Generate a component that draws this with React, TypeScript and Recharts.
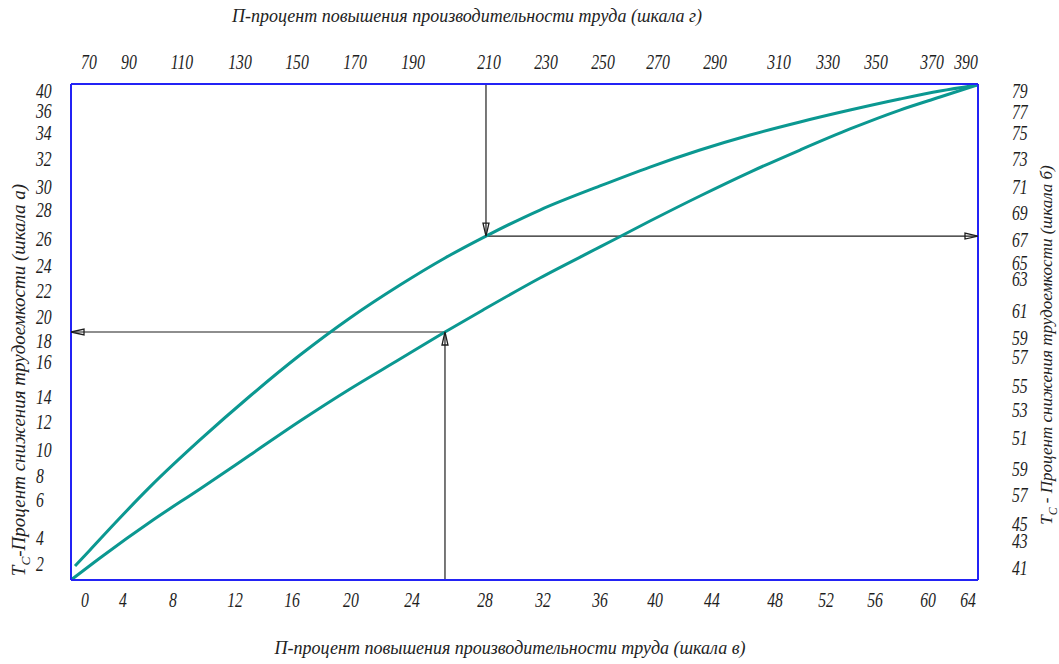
import React from 'react';
import { LineChart, Line, XAxis, YAxis } from 'recharts';

// scale "в" (bottom) and scale "а" (left) are the working units of the chart
const xDomain = [-1, 64.7];
const yDomain = [1, 40.6];

// the drawn scales are not uniform, so each label keeps its own position
const bottomTickLabels = ['0', '4', '8', '12', '16', '20', '24', '28', '32', '36', '40', '44', '48', '52', '56', '60', '64'];
const bottomTickPos = [0.01, 2.77, 6.39, 10.88, 15.01, 19.28, 23.7, 28.99, 33.19, 37.32, 41.31, 45.43, 50.0, 53.69, 57.24, 61.08, 63.98];

const topTickLabels = ['70', '90', '110', '130', '150', '170', '190', '210', '230', '250', '270', '290', '310', '330', '350', '370', '390'];
const topTickPos = [0.3, 3.2, 7.04, 11.24, 15.37, 19.57, 23.77, 29.28, 33.41, 37.54, 41.52, 45.65, 50.29, 53.84, 57.31, 61.37, 63.83];

const leftTickLabels = ['40', '36', '34', '32', '30', '28', '26', '24', '22', '20', '18', '16', '14', '12', '10', '8', '6', '4', '2'];
const leftTickPos = [40.04, 38.44, 36.69, 34.61, 32.38, 30.54, 28.23, 26.07, 24.07, 22.0, 20.08, 18.4, 15.61, 13.61, 11.38, 9.3, 7.39, 4.35, 2.28];

const rightTickLabels = ['79', '77', '75', '73', '71', '69', '67', '65', '63', '61', '59', '57', '55', '53', '51', '59', '57', '45', '43', '41'];
const rightTickPos = [40.04, 38.36, 36.69, 34.61, 32.38, 30.3, 28.15, 26.31, 25.03, 22.48, 20.32, 18.8, 16.49, 14.57, 12.34, 9.86, 7.79, 5.47, 4.11, 1.96];

// upper curve
const upperX = [-0.71, 0.38, 2.4, 4.72, 8.34, 11.97, 15.59, 19.21, 22.83, 26.09, 29.06, 32.97, 37.32, 40.94, 44.56, 48.19, 51.81, 55.43, 59.05, 61.95, 64.63];
const upperY = [2.12, 3.4, 5.79, 8.43, 12.18, 15.69, 18.96, 21.92, 24.55, 26.71, 28.46, 30.54, 32.46, 33.97, 35.33, 36.53, 37.57, 38.52, 39.4, 40.04, 40.52];

// lower curve
const lowerX = [-1, 1.1, 4.94, 8.34, 11.97, 15.59, 19.21, 22.83, 26.09, 28.85, 32.97, 37.32, 40.94, 44.56, 48.19, 51.81, 55.43, 59.05, 61.95, 64.63];
const lowerY = [1, 2.76, 5.79, 8.27, 10.98, 13.69, 16.25, 18.64, 20.8, 22.56, 25.11, 27.59, 29.66, 31.66, 33.57, 35.33, 37.01, 38.52, 39.56, 40.52];

// reading points where the guide arrows meet the curves
const lowerReading = [26.09, 20.8];
const upperReading = [29.06, 28.46];

const upperData = upperX.map((x, i) => ({ x, y: upperY[i] }));
const lowerData = lowerX.map((x, i) => ({ x, y: lowerY[i] }));

const arrows = [
  { dir: 'down', data: [{ x: upperReading[0], y: yDomain[1] }, { x: upperReading[0], y: upperReading[1] }] },
  { dir: 'right', data: [{ x: upperReading[0], y: upperReading[1] }, { x: xDomain[1], y: upperReading[1] }] },
  { dir: 'up', data: [{ x: lowerReading[0], y: yDomain[0] }, { x: lowerReading[0], y: lowerReading[1] }] },
  { dir: 'left', data: [{ x: lowerReading[0], y: lowerReading[1] }, { x: xDomain[0], y: lowerReading[1] }] },
];

const TEAL = '#0b9891';
const BLUE = '#2323f5';
const INK = '#1e1e1e';
const serif = '"Liberation Serif", "Times New Roman", serif';

const tickText = (x: number, y: number, label: string, anchor: string, key?: any) => (
  <text
    key={key}
    transform={`translate(${x},${y}) scale(0.75,1)`}
    textAnchor={anchor}
    dominantBaseline="central"
    fontFamily={serif}
    fontStyle="italic"
    fontSize={21}
    fill={INK}
  >
    {label}
  </text>
);

const labelOf = (pos: number[], labels: string[], v: number) => labels[pos.indexOf(v)] ?? '';

const arrowHead = (dir: string) => (props: any) => {
  const { cx, cy, index } = props;
  if (index !== 1 || cx == null) return <g key={`h${index}`} />;
  const L = 13;
  const W = 3;
  let pts = '';
  if (dir === 'down') pts = `${cx - W},${cy - L} ${cx + W},${cy - L} ${cx},${cy}`;
  if (dir === 'up') pts = `${cx - W},${cy + L} ${cx + W},${cy + L} ${cx},${cy}`;
  if (dir === 'right') pts = `${cx - L},${cy - W} ${cx - L},${cy + W} ${cx},${cy}`;
  if (dir === 'left') pts = `${cx + L},${cy - W} ${cx + L},${cy + W} ${cx},${cy}`;
  return <polygon key={`h${index}`} points={pts} fill="none" stroke={INK} strokeWidth={1.3} />;
};

const titleStyle: React.CSSProperties = {
  position: 'absolute',
  fontFamily: serif,
  fontStyle: 'italic',
  fontSize: 18,
  color: '#222',
  whiteSpace: 'nowrap',
};

export default function App() {
  return (
    <div style={{ position: 'absolute', left: 0, top: 0, width: 1059, height: 664, background: '#fff' }}>
      <LineChart width={1059} height={664} margin={{ top: 54, right: 41, bottom: 54, left: 31 }}>
        <XAxis
          xAxisId="b"
          type="number"
          dataKey="x"
          orientation="bottom"
          domain={xDomain}
          allowDataOverflow
          ticks={bottomTickPos}
          interval={0}
          height={30}
          tickSize={0}
          tickMargin={20}
          tickLine={false}
          axisLine={{ stroke: BLUE, strokeWidth: 2 }}
          tick={(p: any) => tickText(p.x, p.y, labelOf(bottomTickPos, bottomTickLabels, p.payload.value), 'middle', p.index)}
        />
        <XAxis
          xAxisId="t"
          type="number"
          dataKey="x"
          orientation="top"
          domain={xDomain}
          allowDataOverflow
          ticks={topTickPos}
          interval={0}
          height={30}
          tickSize={0}
          tickMargin={22}
          tickLine={false}
          axisLine={{ stroke: BLUE, strokeWidth: 2 }}
          tick={(p: any) => tickText(p.x, p.y, labelOf(topTickPos, topTickLabels, p.payload.value), 'middle', p.index)}
        />
        <YAxis
          yAxisId="a"
          type="number"
          dataKey="y"
          orientation="left"
          domain={yDomain}
          allowDataOverflow
          ticks={leftTickPos}
          interval={0}
          width={40}
          tickSize={0}
          tickMargin={35}
          tickLine={false}
          axisLine={{ stroke: BLUE, strokeWidth: 2 }}
          tick={(p: any) => tickText(p.x, p.y, labelOf(leftTickPos, leftTickLabels, p.payload.value), 'start', p.index)}
        />
        <YAxis
          yAxisId="r"
          type="number"
          dataKey="y"
          orientation="right"
          domain={yDomain}
          allowDataOverflow
          ticks={rightTickPos}
          interval={0}
          width={40}
          tickSize={0}
          tickMargin={34}
          tickLine={false}
          axisLine={{ stroke: BLUE, strokeWidth: 2 }}
          tick={(p: any) => tickText(p.x, p.y, labelOf(rightTickPos, rightTickLabels, p.payload.value), 'start', p.index)}
        />
        {arrows.map((a) => (
          <Line
            key={a.dir}
            xAxisId="b"
            yAxisId="a"
            data={a.data}
            dataKey="y"
            type="linear"
            stroke={INK}
            strokeWidth={1.2}
            dot={arrowHead(a.dir)}
            activeDot={false}
            isAnimationActive={false}
          />
        ))}
        <Line
          xAxisId="b"
          yAxisId="a"
          data={upperData}
          dataKey="y"
          type="monotone"
          stroke={TEAL}
          strokeWidth={3}
          dot={false}
          activeDot={false}
          isAnimationActive={false}
        />
        <Line
          xAxisId="b"
          yAxisId="a"
          data={lowerData}
          dataKey="y"
          type="monotone"
          stroke={TEAL}
          strokeWidth={3}
          dot={false}
          activeDot={false}
          isAnimationActive={false}
        />
      </LineChart>

      <div style={{ ...titleStyle, left: 467, top: 16, transform: 'translate(-50%, -50%)' }}>
        П-процент повышения производительности труда (шкала г)
      </div>
      <div style={{ ...titleStyle, left: 510, top: 648, transform: 'translate(-50%, -50%)' }}>
        П-процент повышения производительности труда (шкала в)
      </div>
      <div style={{ ...titleStyle, fontSize: 19, left: 21, top: 380, transform: 'translate(-50%, -50%) rotate(-90deg)' }}>
        T<sub style={{ fontSize: '0.7em' }}>C</sub>-Процент снижения трудоемкости (шкала а)
      </div>
      <div style={{ ...titleStyle, fontSize: 17, left: 1049, top: 345, transform: 'translate(-50%, -50%) rotate(-90deg)' }}>
        T<sub style={{ fontSize: '0.7em' }}>C</sub> - Процент снижения трудоемкости (шкала б)
      </div>
    </div>
  );
}
